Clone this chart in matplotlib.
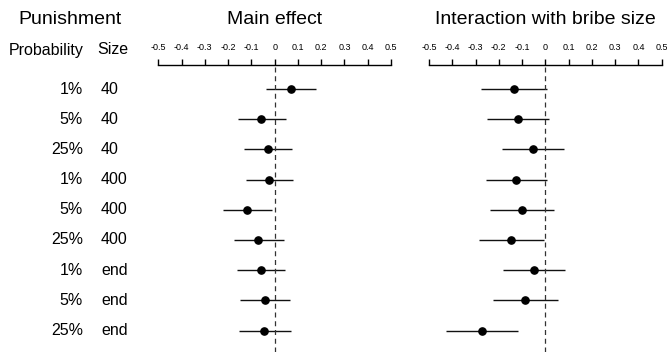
import matplotlib
matplotlib.use("Agg")
import matplotlib.pyplot as plt

plt.rcParams['font.family'] = ['Liberation Sans', 'DejaVu Sans']

probability = ["1%", "5%", "25%", "1%", "5%", "25%", "1%", "5%", "25%"]
size = ["40", "40", "40", "400", "400", "400", "end", "end", "end"]

main_est = [0.070, -0.059, -0.030, -0.023, -0.118, -0.070, -0.060, -0.043, -0.046]
main_lo = [-0.036, -0.159, -0.131, -0.123, -0.222, -0.175, -0.162, -0.149, -0.155]
main_hi = [0.177, 0.047, 0.073, 0.079, -0.010, 0.039, 0.043, 0.064, 0.069]

int_est = [-0.135, -0.119, -0.055, -0.126, -0.102, -0.148, -0.050, -0.087, -0.274]
int_lo = [-0.275, -0.249, -0.185, -0.257, -0.238, -0.284, -0.184, -0.226, -0.426]
int_hi = [0.006, 0.017, 0.080, 0.009, 0.036, -0.006, 0.086, 0.055, -0.116]

ticks = [-0.5, -0.4, -0.3, -0.2, -0.1, 0, 0.1, 0.2, 0.3, 0.4, 0.5]
tick_labels = ["-0.5", "-0.4", "-0.3", "-0.2", "-0.1", "0", "0.1", "0.2", "0.3", "0.4", "0.5"]

W, H = 667, 352
fig = plt.figure(figsize=(W / 100, H / 100), dpi=100)

def fx(px):
    return px / W

def fy(py):
    return 1 - py / H

row0, step = 89.0, 30.2
top_px, bot_px = 65, 352
y_top = (top_px - row0) / step
y_bot = (bot_px - row0) / step

def panel(left_px, right_px, est, lo, hi, title):
    ax = fig.add_axes([fx(left_px), 0, fx(right_px) - fx(left_px), fy(top_px)])
    n = len(est)
    ys = list(range(n))
    ax.hlines(ys, lo, hi, color="#111111", lw=1.0)
    ax.plot(est, ys, "o", color="black", ms=5.2)
    ax.axvline(0, color="#333333", lw=0.9, ls=(0, (4, 3)))
    ax.set_xlim(-0.5, 0.5)
    ax.set_ylim(y_bot, y_top)
    for s in ["left", "right", "bottom"]:
        ax.spines[s].set_visible(False)
    ax.spines["top"].set_linewidth(1.0)
    ax.xaxis.set_ticks_position("top")
    ax.set_xticks(ticks)
    ax.set_xticklabels(tick_labels)
    ax.tick_params(axis="x", direction="out", length=4, width=1.0, pad=5, labelsize=6.5)
    ax.set_yticks([])
    ax.patch.set_alpha(0)
    fig.text(fx((left_px + right_px) / 2), fy(19), title, ha="center", va="center", fontsize=14)
    return ax

panel(158.3, 391.0, main_est, main_lo, main_hi, "Main effect")
panel(429.0, 661.7, int_est, int_lo, int_hi, "Interaction with bribe size")

fig.text(fx(70), fy(19), "Punishment", ha="center", va="center", fontsize=14)
fig.text(fx(46), fy(50), "Probability", ha="center", va="center", fontsize=11.5)
fig.text(fx(113), fy(50), "Size", ha="center", va="center", fontsize=11.5)

for i, (p, s) in enumerate(zip(probability, size)):
    y = row0 + step * i
    fig.text(fx(83), fy(y), p, ha="right", va="center", fontsize=11.5)
    fig.text(fx(101), fy(y), s, ha="left", va="center", fontsize=11.5)

fig.savefig("out.png", dpi=100)
